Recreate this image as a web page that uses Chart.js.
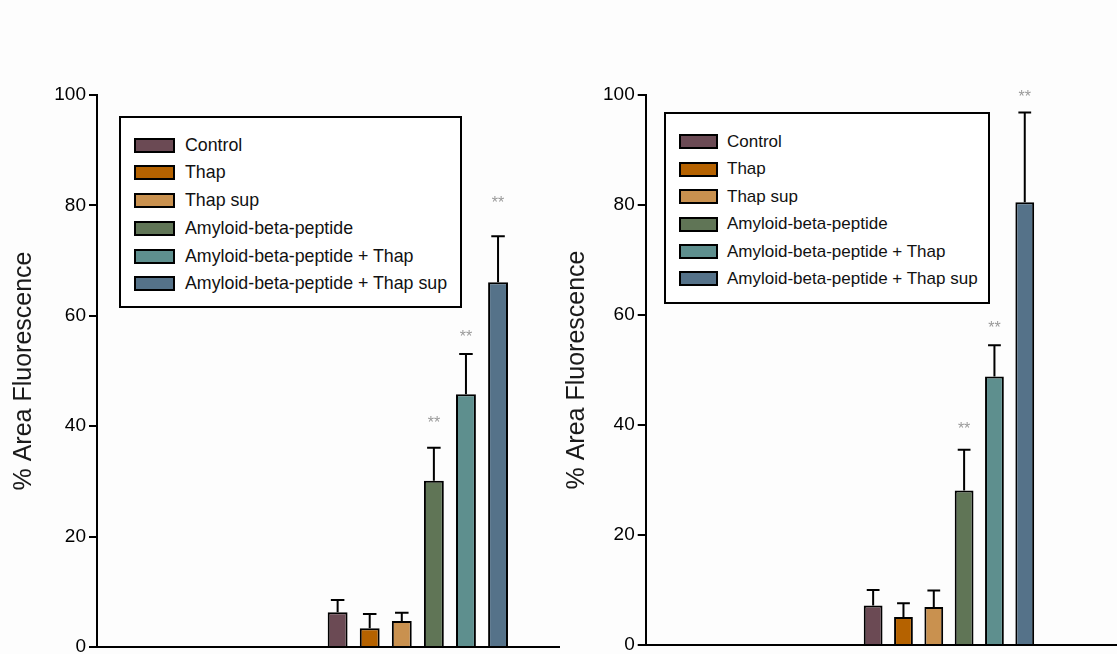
<!DOCTYPE html>
<html><head><meta charset="utf-8">
<script src="https://cdn.jsdelivr.net/npm/chart.js@4.4.1/dist/chart.umd.min.js"></script>
<style>
html,body{margin:0;padding:0;width:1117px;height:654px;overflow:hidden;background:#fdfdfd;font-family:"Liberation Sans",Arial,sans-serif;}
body{position:relative;}
canvas{position:absolute;top:0;}
.legend{position:absolute;border:2px solid #000;box-sizing:border-box;background:#fff;}
.row{position:absolute;display:flex;align-items:center;white-space:nowrap;color:#111;}
.sw{box-sizing:border-box;border:2px solid #000;display:inline-block;flex:none;}
</style></head><body>
<canvas id="left"></canvas><canvas id="right"></canvas>
<div id="legL" class="legend"></div><div id="legR" class="legend"></div>
<script>
// ---- data ----
const categories = ['Control','Thap','Thap sup','Amyloid-beta-peptide','Amyloid-beta-peptide + Thap','Amyloid-beta-peptide + Thap sup'];
const barColors = ['#6b4a54','#b56200','#c9914f','#607556','#5e8f8e','#557289'];
const leftValues  = [6.3, 3.4, 4.7, 30.1, 45.8, 66.1];
const leftErrors  = [2.2, 2.6, 1.5, 6.0, 7.3, 8.3];
const leftSig     = [null, null, null, 41.3, 56.9, 81.2];
const rightValues = [7.2, 5.1, 6.9, 28.1, 48.8, 80.5];
const rightErrors = [2.8, 2.5, 3.0, 7.4, 5.7, 16.3];
const rightSig    = [null, null, null, 40.0, 58.3, 100.3];
const yTicks = [0, 20, 40, 60, 80, 100];
const axisTitle = '% Area Fluorescence';
const sigLabel = '**';

// ---- layout constants ----
const groupStart = 7.5;   // x position of first bar on the linear x axis
const panels = [
  {canvas:'left', legend:'legL', left:0, width:562, height:700, pad:{left:0,top:95,right:3,bottom:53},
   yWidth:97, titlePad:9, xMax:14.4, values:leftValues, errors:leftErrors, sig:leftSig,
   leg:{left:119,top:116,width:343,height:192,swL:13,swW:41,swH:15,txtL:64,row0:27.3,rowH:27.7,font:17.8}},
  {canvas:'right', legend:'legR', left:560, width:580, height:700, pad:{left:0,top:95,right:0,bottom:55},
   yWidth:85.7, titlePad:2, xMax:16.3, values:rightValues, errors:rightErrors, sig:rightSig,
   leg:{left:664,top:112,width:326,height:192,swL:12.5,swW:39,swH:15,txtL:61,row0:28,rowH:27.4,font:17}}
];

const errorBarPlugin = {
  id:'errorBars',
  afterDatasetsDraw(chart, args, opts){
    const ctx = chart.ctx, ys = chart.scales.y, meta = chart.getDatasetMeta(0);
    const ds = chart.data.datasets[0];
    ctx.save();
    meta.data.forEach((bar,i)=>{
      const v = ds.data[i].y;
      const top = ys.getPixelForValue(v + opts.errors[i]);
      const half = bar.width*0.34;
      ctx.strokeStyle = '#000'; ctx.lineWidth = 2;
      ctx.beginPath();
      ctx.moveTo(bar.x, bar.y); ctx.lineTo(bar.x, top);
      ctx.moveTo(bar.x-half, top); ctx.lineTo(bar.x+half, top);
      ctx.stroke();
      if (opts.sig[i] != null){
        ctx.fillStyle = '#9a9a9a';
        ctx.font = '16px "Liberation Sans", Arial, sans-serif';
        ctx.textAlign = 'center'; ctx.textBaseline = 'alphabetic';
        ctx.fillText(sigLabel, bar.x, ys.getPixelForValue(opts.sig[i]) + 9);
      }
    });
    ctx.restore();
  }
};

panels.forEach(p=>{
  const cv = document.getElementById(p.canvas);
  cv.width = p.width; cv.height = p.height;
  cv.style.width = p.width+'px'; cv.style.height = p.height+'px'; cv.style.left = p.left+'px';
  new Chart(cv, {
    type:'bar',
    data:{ datasets:[{
      data: p.values.map((v,i)=>({x: groupStart + i, y: v})),
      backgroundColor: barColors, borderColor:'#000', borderWidth:2,
      categoryPercentage:1, barPercentage:0.62
    }]},
    options:{
      responsive:false, animation:false, devicePixelRatio:1,
      layout:{padding:p.pad},
      plugins:{legend:{display:false}, tooltip:{enabled:false},
        errorBars:{errors:p.errors, sig:p.sig}},
      scales:{
        x:{type:'linear', min:0, max:p.xMax, offset:false,
           ticks:{display:false}, grid:{display:false, drawTicks:false},
           border:{display:true, color:'#000', width:2},
           afterFit(s){ s.height = 0; }},
        y:{type:'linear', min:0, max:100,
           afterBuildTicks(s){ s.ticks = yTicks.map(v=>({value:v})); },
           ticks:{color:'#000', padding:3, font:{family:'"Liberation Sans", Arial, sans-serif', size:19}},
           grid:{drawOnChartArea:false, drawTicks:true, tickLength:8, color:'#000', lineWidth:2},
           border:{display:true, color:'#000', width:2},
           title:{display:true, text:axisTitle, color:'#1a1a1a', padding:{top:p.titlePad,bottom:0},
                  font:{family:'"Liberation Sans", Arial, sans-serif', size:25}},
           afterFit(s){ s.width = p.yWidth; }}
      }
    },
    plugins:[errorBarPlugin]
  });
  // HTML legend built from categories and colours
  const L = p.leg, box = document.getElementById(p.legend);
  Object.assign(box.style,{left:L.left+'px',top:L.top+'px',width:L.width+'px',height:L.height+'px'});
  categories.forEach((name,i)=>{
    const row = document.createElement('div');
    row.className = 'row';
    const cy = L.row0 + i*L.rowH;
    Object.assign(row.style,{left:L.swL+'px', top:(cy-L.rowH/2)+'px', height:L.rowH+'px', fontSize:L.font+'px'});
    const sw = document.createElement('span');
    sw.className='sw';
    Object.assign(sw.style,{width:L.swW+'px',height:L.swH+'px',background:barColors[i],marginRight:(L.txtL-L.swL-L.swW)+'px'});
    const t = document.createElement('span'); t.textContent = name;
    row.appendChild(sw); row.appendChild(t); box.appendChild(row);
  });
});
</script>
</body></html>
